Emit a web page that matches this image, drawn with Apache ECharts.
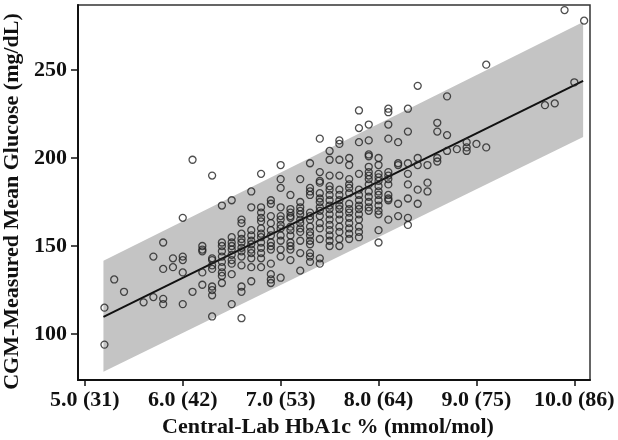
<!DOCTYPE html>
<html>
<head>
<meta charset="utf-8">
<script src="https://cdn.jsdelivr.net/npm/echarts@6/dist/echarts.min.js"></script>
<style>
  html, body { margin: 0; padding: 0; background: #fff; }
  #main { width: 618px; height: 440px; }
</style>
</head>
<body>
<div id="main"></div>
<script>
// tick positions and labels
const xTicks = [5, 6, 7, 8, 9, 10];
const xTickText = ['5.0 (31)', '6.0 (42)', '7.0 (53)', '8.0 (64)', '9.0 (75)', '10.0 (86)'];
const yTicks = [100, 150, 200, 250];

// fitted line and prediction band
const fitX = [5.19, 10.09];
const fitY = [109.7, 243.8];
const bandLow = [78.6, 211.9];
const bandHigh = [141.6, 277.3];

// measurements, grouped by HbA1c column
const hba1c = [];
const glucose = [];
function col(x, ys) { ys.forEach(y => { hba1c.push(x); glucose.push(y); }); }
col(5.2, [115, 94]);
col(5.3, [131]);
col(5.4, [124]);
col(5.6, [118]);
col(5.7, [144, 121]);
col(5.8, [152, 137, 120, 117]);
col(5.9, [143, 138]);
col(6.0, [166, 144, 142, 135, 117]);
col(6.1, [199, 124]);
col(6.2, [150, 148, 147, 135, 128]);
col(6.3, [190, 143, 142, 139, 137, 127, 125, 122, 110]);
col(6.4, [173, 152, 150, 147, 144, 141, 138, 135, 133, 129]);
col(6.5, [176, 155, 152, 150, 148, 145, 142, 140, 134, 117]);
col(6.6, [165, 163, 157, 154, 152, 149, 147, 144, 139, 127, 124, 109]);
col(6.7, [181, 172, 159, 156, 153, 151, 148, 146, 143, 138, 130]);
col(6.8, [191, 172, 169, 166, 164, 160, 157, 155, 152, 149, 146, 143, 138]);
col(6.9, [176, 174, 167, 163, 159, 156, 152, 150, 148, 140, 134, 131, 129]);
col(7.0, [196, 188, 183, 172, 167, 165, 162, 160, 156, 153, 148, 144, 132]);
col(7.1, [179, 171, 169, 167, 166, 161, 159, 156, 152, 150, 148, 142]);
col(7.2, [188, 175, 172, 170, 168, 165, 163, 160, 158, 153, 146, 136]);
col(7.3, [197, 183, 181, 179, 169, 167, 165, 161, 158, 156, 153, 151, 146, 144, 141]);
col(7.4, [211, 192, 187, 186, 180, 177, 175, 172, 170, 167, 163, 160, 154, 143, 140]);
col(7.5, [204, 199, 190, 184, 182, 179, 176, 173, 171, 168, 165, 162, 159, 156, 153, 150]);
col(7.6, [210, 208, 199, 190, 182, 179, 176, 173, 171, 168, 165, 161, 158, 154, 150]);
col(7.7, [200, 196, 188, 185, 183, 180, 174, 171, 169, 166, 163, 160, 157, 154]);
col(7.8, [227, 217, 209, 191, 182, 179, 176, 173, 171, 168, 165, 161, 158, 155]);
col(7.9, [219, 210, 202, 201, 195, 192, 190, 188, 185, 181, 178, 175, 172, 170]);
col(8.0, [200, 196, 191, 189, 187, 184, 181, 179, 176, 173, 170, 168, 159, 152]);
col(8.1, [228, 226, 219, 211, 192, 190, 188, 185, 179, 177, 176, 165]);
col(8.2, [209, 197, 196, 174, 167]);
col(8.3, [228, 215, 197, 191, 185, 177, 166, 162]);
col(8.4, [241, 200, 196, 182, 174]);
col(8.5, [196, 186, 181]);
col(8.6, [220, 215, 200, 198]);
col(8.7, [235, 213, 204]);
col(8.8, [205]);
col(8.9, [209, 206, 204]);
col(9.0, [208]);
col(9.1, [253, 206]);
col(9.7, [230]);
col(9.8, [231]);
col(9.9, [284]);
col(10.0, [243]);
col(10.1, [278]);

const chart = echarts.init(document.getElementById('main'), null, { renderer: 'canvas' });

const serif = 'Liberation Serif';
const boldText = { fontFamily: serif, fontWeight: 'bold', color: '#111' };

chart.setOption({
  animation: false,
  grid: {
    left: 78, right: 28, top: 5, bottom: 60,
    outerBoundsMode: 'none',
    containLabel: false,
    show: true, borderColor: '#333', borderWidth: 1.5
  },
  xAxis: {
    type: 'value',
    min: 4.93,
    max: 10.16,
    name: 'Central-Lab HbA1c % (mmol/mol)',
    nameLocation: 'middle',
    nameGap: 26,
    nameTextStyle: Object.assign({ fontSize: 22, padding: [0, 12, 0, 0] }, boldText),
    axisLine: { onZero: false, lineStyle: { color: '#111', width: 2 } },
    axisTick: { customValues: xTicks, length: 6, lineStyle: { color: '#111', width: 1.5 } },
    axisLabel: Object.assign({
      customValues: xTicks,
      margin: 9,
      fontSize: 22,
      formatter: v => xTickText[xTicks.indexOf(v)] || ''
    }, boldText),
    splitLine: { show: false }
  },
  yAxis: {
    type: 'value',
    min: 73.9,
    max: 286.9,
    name: 'CGM-Measured Mean Glucose (mg/dL)',
    nameLocation: 'middle',
    nameGap: 52,
    nameTextStyle: Object.assign({ fontSize: 22, padding: [0, 18, 0, 0] }, boldText),
    axisLine: { onZero: false, lineStyle: { color: '#111', width: 2 } },
    axisTick: { customValues: yTicks, length: 7, lineStyle: { color: '#111', width: 1.5 } },
    axisLabel: Object.assign({ customValues: yTicks, margin: 11, fontSize: 22 }, boldText),
    splitLine: { show: false }
  },
  series: [
    {
      // prediction band as one polygon
      type: 'custom',
      silent: true,
      data: [0],
      renderItem: (params, api) => {
        const pts = [
          api.coord([fitX[0], bandLow[0]]),
          api.coord([fitX[1], bandLow[1]]),
          api.coord([fitX[1], bandHigh[1]]),
          api.coord([fitX[0], bandHigh[0]])
        ];
        return { type: 'polygon', shape: { points: pts }, style: { fill: '#c4c4c4' } };
      },
      z: 1
    },
    {
      type: 'line',
      symbol: 'none',
      silent: true,
      lineStyle: { color: '#111', width: 2 },
      data: fitX.map((x, i) => [x, fitY[i]]),
      z: 2
    },
    {
      type: 'scatter',
      symbol: 'circle',
      symbolSize: 7,
      itemStyle: { color: 'rgba(0,0,0,0)', borderColor: '#222', borderWidth: 1.3 },
      data: hba1c.map((x, i) => [x, glucose[i]]),
      z: 3
    }
  ]
});
</script>
</body>
</html>
